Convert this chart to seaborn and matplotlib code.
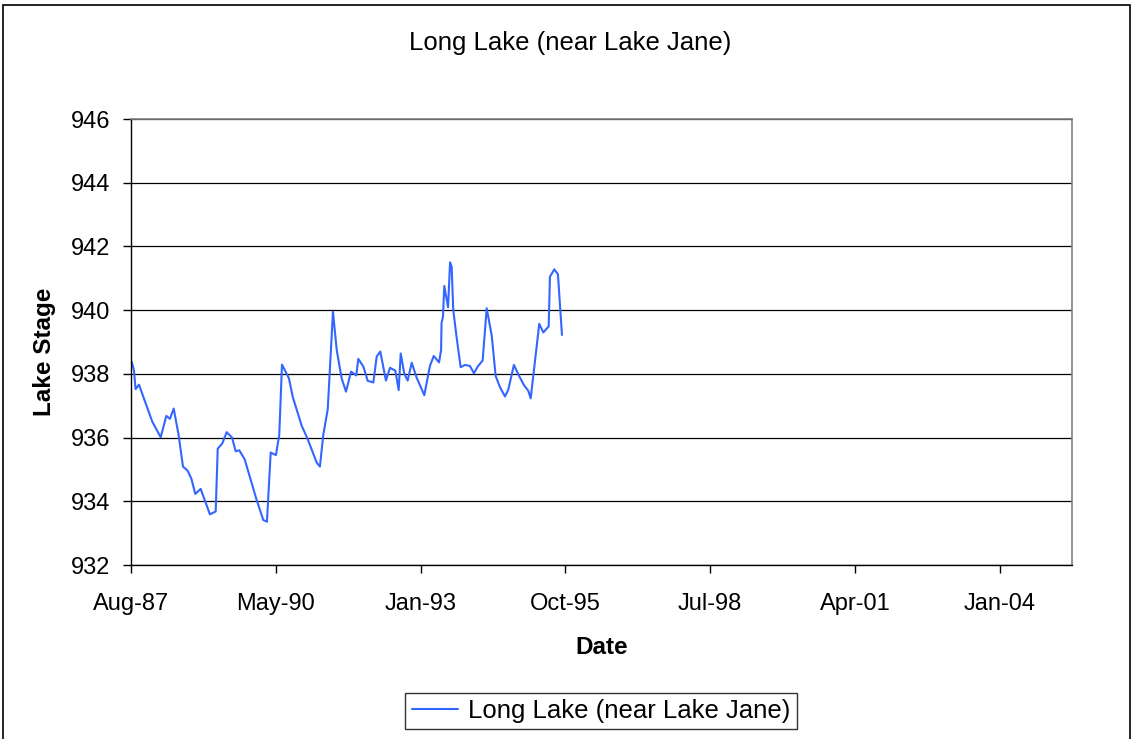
import matplotlib
matplotlib.use("Agg")
import matplotlib.pyplot as plt
import matplotlib.dates as mdates
from matplotlib.patches import Rectangle
import numpy as np
import pandas as pd
import seaborn as sns

# Lake stage readings for Long Lake (near Lake Jane)
dates = [
    "1987-08-16", "1987-08-31", "1987-09-12", "1987-10-05", "1988-01-05",
    "1988-03-03", "1988-04-11", "1988-05-06", "1988-06-01", "1988-07-05",
    "1988-08-04", "1988-09-05", "1988-10-01", "1988-10-28", "1988-12-04",
    "1989-02-06", "1989-03-18", "1989-04-01", "1989-05-03", "1989-06-02",
    "1989-07-09", "1989-08-03", "1989-08-28", "1989-10-04", "1989-12-26",
    "1990-02-10", "1990-03-07", "1990-04-02", "1990-05-08", "1990-05-31",
    "1990-06-19", "1990-08-06", "1990-09-01", "1990-11-02", "1990-12-11",
    "1991-02-14", "1991-03-08", "1991-03-31", "1991-05-01", "1991-06-06",
    "1991-07-02", "1991-08-05", "1991-09-04", "1991-10-09", "1991-11-14",
    "1991-11-28", "1992-01-02", "1992-02-01", "1992-03-11", "1992-04-03",
    "1992-04-28", "1992-06-06", "1992-07-04", "1992-08-10", "1992-09-02",
    "1992-09-16", "1992-10-11", "1992-11-03", "1992-12-01", "1993-01-04",
    "1993-02-26", "1993-04-06", "1993-05-02", "1993-06-08", "1993-06-22",
    "1993-06-25", "1993-07-05", "1993-07-14", "1993-08-09", "1993-08-23",
    "1993-09-03", "1993-09-14", "1993-10-08", "1993-11-04", "1993-12-04",
    "1994-01-07", "1994-02-04", "1994-03-02", "1994-04-05", "1994-05-03",
    "1994-06-07", "1994-07-04", "1994-08-03", "1994-09-06", "1994-09-29",
    "1994-11-07", "1994-12-12", "1995-01-15", "1995-02-14", "1995-03-03",
    "1995-04-01", "1995-05-01", "1995-05-29", "1995-07-05", "1995-07-14",
    "1995-08-13", "1995-09-07", "1995-10-05",
]
stage = [
    938.38, 938.12, 937.52, 937.66, 936.50,
    936.01, 936.68, 936.59, 936.91, 936.08,
    935.09, 934.96, 934.71, 934.23, 934.39,
    933.59, 933.68, 935.65, 935.82, 936.17,
    936.00, 935.57, 935.60, 935.32, 934.04,
    933.41, 933.36, 935.53, 935.45, 936.08,
    938.29, 937.86, 937.28, 936.37, 935.98,
    935.21, 935.09, 936.08, 936.89, 939.95,
    938.75, 937.86, 937.44, 938.07, 937.95,
    938.47, 938.23, 937.78, 937.73, 938.54,
    938.70, 937.79, 938.19, 938.10, 937.49,
    938.64, 938.00, 937.79, 938.35, 937.88,
    937.33, 938.25, 938.56, 938.36, 938.75,
    939.59, 939.80, 940.76, 940.09, 941.50,
    941.36, 940.00, 939.12, 938.21, 938.28,
    938.25, 938.02, 938.23, 938.42, 940.06,
    939.19, 937.93, 937.58, 937.29, 937.50,
    938.28, 937.94, 937.65, 937.47, 937.23,
    938.38, 939.57, 939.30, 939.49, 941.05,
    941.28, 941.13, 939.22,
]
series_name = "Long Lake (near Lake Jane)"
title = "Long Lake (near Lake Jane)"
x_label = "Date"
y_label = "Lake Stage"
y_ticks = [932, 934, 936, 938, 940, 942, 944, 946]

# Date axis: 1000-day steps from 11 Aug 1987 to 28 May 2005
axis_start = pd.Timestamp("1987-08-11")
axis_end = pd.Timestamp("2005-05-28")
tick_step_days = 1000

line_color = "#3366ff"

df = pd.DataFrame({"Date": pd.to_datetime(dates), "Stage": stage,
                   "Series": series_name})

sns.set_theme(style="white")
plt.rcParams["font.family"] = ["Liberation Sans", "DejaVu Sans"]
plt.rcParams["text.color"] = "black"
plt.rcParams["axes.labelcolor"] = "black"
plt.rcParams["legend.labelcolor"] = "black"

fig = plt.figure(figsize=(11.34, 7.39), dpi=100)
ax = fig.add_axes([131 / 1134, 1 - 565 / 739, 941 / 1134, 446 / 739])

sns.lineplot(data=df, x="Date", y="Stage", hue="Series",
             palette=[line_color], linewidth=1.5, ax=ax, legend=False)

ax.set_xlim(axis_start, axis_end)
ax.set_ylim(932, 946)
ax.set_yticks(y_ticks)
ticks = [axis_start + pd.Timedelta(days=tick_step_days * k) for k in range(7)]
ax.set_xticks(ticks)
ax.xaxis.set_major_formatter(mdates.DateFormatter("%b-%y"))

ax.yaxis.grid(True, color="black", linewidth=0.9)
ax.xaxis.grid(False)
ax.set_axisbelow(True)

for side in ("left", "bottom"):
    ax.spines[side].set_color("black")
    ax.spines[side].set_linewidth(1.0)
for side in ("top", "right"):
    ax.spines[side].set_color("#808080")
    ax.spines[side].set_linewidth(1.2)

ax.tick_params(axis="both", which="major", direction="out", length=6,
               width=1.0, color="black", labelsize=17, labelcolor="black",
               left=True, bottom=True)
ax.tick_params(axis="y", pad=9)
ax.tick_params(axis="x", pad=14)
ax.set_xlabel("")
ax.set_ylabel("")

fig.text(0.5 * (131 + 1072) / 1134, 1 - 647 / 739, x_label,
         ha="center", va="center", fontsize=17.5, fontweight="bold",
         color="black")
fig.text(44 / 1134, 1 - 352 / 739, y_label, ha="center", va="center",
         rotation=90, fontsize=17.5, fontweight="bold", color="black")
fig.text(570 / 1134, 1 - 43 / 739, title, ha="center", va="center",
         fontsize=18.5, color="black")

handle = plt.Line2D([], [], color=line_color, linewidth=1.5)
leg = fig.legend([handle], [series_name], loc="center",
                 bbox_to_anchor=(601 / 1134, 1 - 711 / 739),
                 fontsize=18.5, frameon=True, fancybox=False,
                 handlelength=1.8, handletextpad=0.4, borderpad=0.25,
                 borderaxespad=0)
leg.get_frame().set_edgecolor("black")
leg.get_frame().set_linewidth(1.0)
for t in leg.get_texts():
    t.set_color("black")

# Outer chart border
fig.patches.append(Rectangle((3 / 1134, -0.02), 1127 / 1134, 1.02 - 5 / 739,
                             transform=fig.transFigure, fill=False,
                             edgecolor="black", linewidth=1.2))

fig.savefig("out.png", dpi=100, facecolor="white")
